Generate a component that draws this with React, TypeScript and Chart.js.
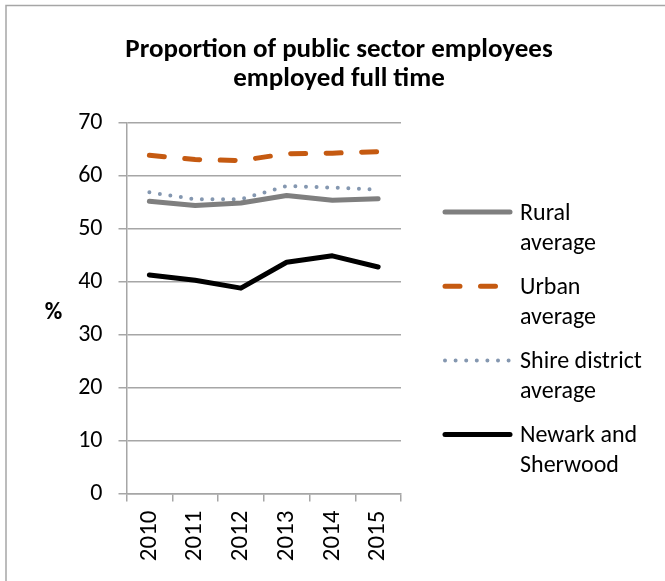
import React, { useEffect, useRef } from "react";
import { Chart, registerables } from "chart.js";

Chart.register(...registerables);

const years = ["2010", "2011", "2012", "2013", "2014", "2015"];
const rural = [55.2, 54.4, 54.9, 56.3, 55.4, 55.7];
const urban = [63.9, 63.1, 62.9, 64.2, 64.3, 64.6];
const shire = [56.9, 55.6, 55.6, 58.1, 57.8, 57.4];
const newark = [41.3, 40.3, 38.8, 43.7, 44.9, 42.8];

const titleLines = ["Proportion of public sector employees", "employed full time"];
const FONT = "'Carlito', 'Open Sans', sans-serif";

const legendItems = [
  { lines: ["Rural", "average"], color: "#7F7F7F", dash: [] as number[], width: 5, cap: "round" as CanvasLineCap },
  { lines: ["Urban", "average"], color: "#C55A11", dash: [15, 20.5], width: 5, cap: "round" as CanvasLineCap },
  { lines: ["Shire district", "average"], color: "#8497B0", dash: [0, 10.6], width: 4, cap: "round" as CanvasLineCap },
  { lines: ["Newark and", "Sherwood"], color: "#000000", dash: [] as number[], width: 5, cap: "round" as CanvasLineCap },
];

const decor = {
  id: "decor",
  afterDraw(chart: any) {
    const ctx = chart.ctx as CanvasRenderingContext2D;
    ctx.save();
    // border (top + left)
    ctx.strokeStyle = "#A6A6A6";
    ctx.lineWidth = 1.5;
    ctx.beginPath();
    ctx.moveTo(6, 581);
    ctx.lineTo(6, 5.5);
    ctx.lineTo(665, 5.5);
    ctx.stroke();
    // title
    ctx.fillStyle = "#000";
    ctx.textAlign = "center";
    ctx.textBaseline = "alphabetic";
    ctx.font = `bold 27px ${FONT}`;
    ctx.fillText(titleLines[0], 339, 56.5);
    ctx.fillText(titleLines[1], 339, 86);
    // % label
    ctx.font = `bold 24px ${FONT}`;
    ctx.fillText("%", 53.5, 319);
    // legend
    ctx.textAlign = "left";
    ctx.font = `24px ${FONT}`;
    legendItems.forEach((it, i) => {
      const y = 212 + i * 74.2;
      ctx.strokeStyle = it.color;
      ctx.lineWidth = it.width;
      ctx.lineCap = it.cap;
      ctx.setLineDash(it.dash);
      ctx.beginPath();
      ctx.moveTo(445, y);
      ctx.lineTo(510, y);
      ctx.stroke();
      ctx.setLineDash([]);
      ctx.fillStyle = "#000";
      it.lines.forEach((t, j) => ctx.fillText(t, 520, y + 7.5 + j * 30));
    });
    ctx.restore();
  },
};

export default function App() {
  const ref = useRef<HTMLCanvasElement>(null);
  useEffect(() => {
    document.body.style.margin = "0";
    const chart = new Chart(ref.current!, {
      type: "line",
      data: {
        labels: years,
        datasets: [
          { label: "Rural average", data: rural, borderColor: "#7F7F7F", borderWidth: 5, borderCapStyle: "round", borderJoinStyle: "round" },
          { label: "Urban average", data: urban, borderColor: "#C55A11", borderWidth: 5, borderDash: [15, 20.5], borderCapStyle: "round" },
          { label: "Shire district average", data: shire, borderColor: "#8497B0", borderWidth: 4, borderDash: [0, 10.6], borderCapStyle: "round" },
          { label: "Newark and Sherwood", data: newark, borderColor: "#000000", borderWidth: 5, borderCapStyle: "round", borderJoinStyle: "round" },
        ].map((d) => ({ ...d, pointRadius: 0, tension: 0, fill: false })) as any,
      },
      options: {
        animation: false,
        responsive: false,
        layout: { padding: { top: 123, right: 264, left: 0, bottom: 0 } },
        plugins: { legend: { display: false }, title: { display: false }, tooltip: { enabled: false } },
        scales: {
          x: {
            offset: true,
            grid: { offset: true, drawOnChartArea: false, drawTicks: true, tickLength: 8, color: "#A6A6A6", lineWidth: 1.5 },
            border: { color: "#A6A6A6", width: 1.5 },
            ticks: { minRotation: 90, maxRotation: 90, padding: 9, color: "#000", font: { size: 25, family: FONT } },
            afterFit: (s: any) => { s.height = 87.5; },
          },
          y: {
            min: 0,
            max: 70,
            grid: { color: "#A6A6A6", lineWidth: 1.5, tickLength: 8 },
            border: { color: "#A6A6A6", width: 1.5 },
            ticks: { stepSize: 10, padding: 16, color: "#000", font: { size: 24, family: FONT } },
            afterFit: (s: any) => { s.width = 126.5; },
          },
        },
      },
      plugins: [decor],
    });
    return () => chart.destroy();
  }, []);
  return <canvas ref={ref} width={665} height={581} style={{ display: "block" }} />;
}
